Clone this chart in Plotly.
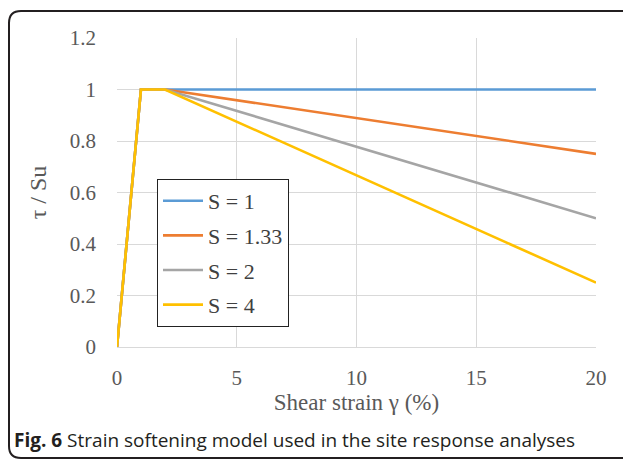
import plotly.graph_objects as go

# Data
strain = [0, 1, 2, 20]
series_names = ["S = 1", "S = 1.33", "S = 2", "S = 4"]
s1 = [0, 1, 1, 1.0]
s133 = [0, 1, 1, 0.75]
s2 = [0, 1, 1, 0.5]
s4 = [0, 1, 1, 0.25]
colors = ["#5B9BD5", "#ED7D31", "#A5A5A5", "#FFC000"]
x_ticks = [0, 5, 10, 15, 20]
y_ticks = [0, 0.2, 0.4, 0.6, 0.8, 1, 1.2]

W, H = 623, 459
L, R, T, B = 117, 596, 38, 347  # plot area in pixels


def px(x):
    return (x - L) / (R - L)


def py(y):
    return (B - y) / (B - T)


fig = go.Figure()
for i, (name, ys) in enumerate(zip(series_names, [s1, s133, s2, s4])):
    fig.add_trace(go.Scatter(
        x=strain, y=ys, mode="lines", name=name,
        line=dict(color=colors[i], width=2.6),
        legendgroup=f"g{i}",
    ))

serif = "Liberation Serif, Times New Roman, serif"
fig.update_layout(
    width=W, height=H,
    margin=dict(l=L, r=W - R, t=T, b=H - B),
    plot_bgcolor="white", paper_bgcolor="white",
    font=dict(family=serif, color="#595959", size=21),
    legend=dict(
        x=px(157), y=py(179), xanchor="left", yanchor="top",
        bgcolor="white", bordercolor="#222222", borderwidth=1,
        font=dict(family=serif, size=22, color="#404040"),
        tracegroupgap=3, itemwidth=40,
    ),
    showlegend=True,
)
fig.update_xaxes(
    range=[0, 20], tickvals=x_ticks, showgrid=True, gridcolor="#d9d9d9",
    gridwidth=1, zeroline=False, showline=True, linecolor="#d9d9d9",
    ticks="", ticklabelstandoff=12,
    title=dict(text="Shear strain γ (%)", font=dict(size=23, color="#595959"), standoff=4),
)
fig.update_yaxes(
    range=[0, 1.2], tickvals=y_ticks, showgrid=True, gridcolor="#d9d9d9",
    gridwidth=1, zeroline=False, showline=False,
    ticks="", ticklabelstandoff=20,
    title=dict(text="τ / Su", font=dict(size=24, color="#595959"), standoff=16),
)

# Outer rounded frame
r = 12
x0, y0, x1, y1 = 9, 11, 640, 458
path = (
    f"M {px(x0)},{py(y0 + r)} "
    f"Q {px(x0)},{py(y0)} {px(x0 + r)},{py(y0)} "
    f"L {px(x1 - r)},{py(y0)} "
    f"Q {px(x1)},{py(y0)} {px(x1)},{py(y0 + r)} "
    f"L {px(x1)},{py(y1 - r)} "
    f"Q {px(x1)},{py(y1)} {px(x1 - r)},{py(y1)} "
    f"L {px(x0 + r)},{py(y1)} "
    f"Q {px(x0)},{py(y1)} {px(x0)},{py(y1 - r)} Z"
)
fig.add_shape(type="path", path=path, xref="paper", yref="paper",
              line=dict(color="#231f20", width=2), layer="below")

# Caption
fig.add_annotation(
    x=px(12), y=py(440), xref="paper", yref="paper", xanchor="left", yanchor="middle",
    text="<b>Fig. 6</b> Strain softening model used in the site response analyses",
    showarrow=False, font=dict(family="Open Sans, sans-serif", size=19, color="#231f20"),
)

fig.write_html("out.html", config={"displayModeBar": False},
               post_script="document.body.style.margin='0';")
